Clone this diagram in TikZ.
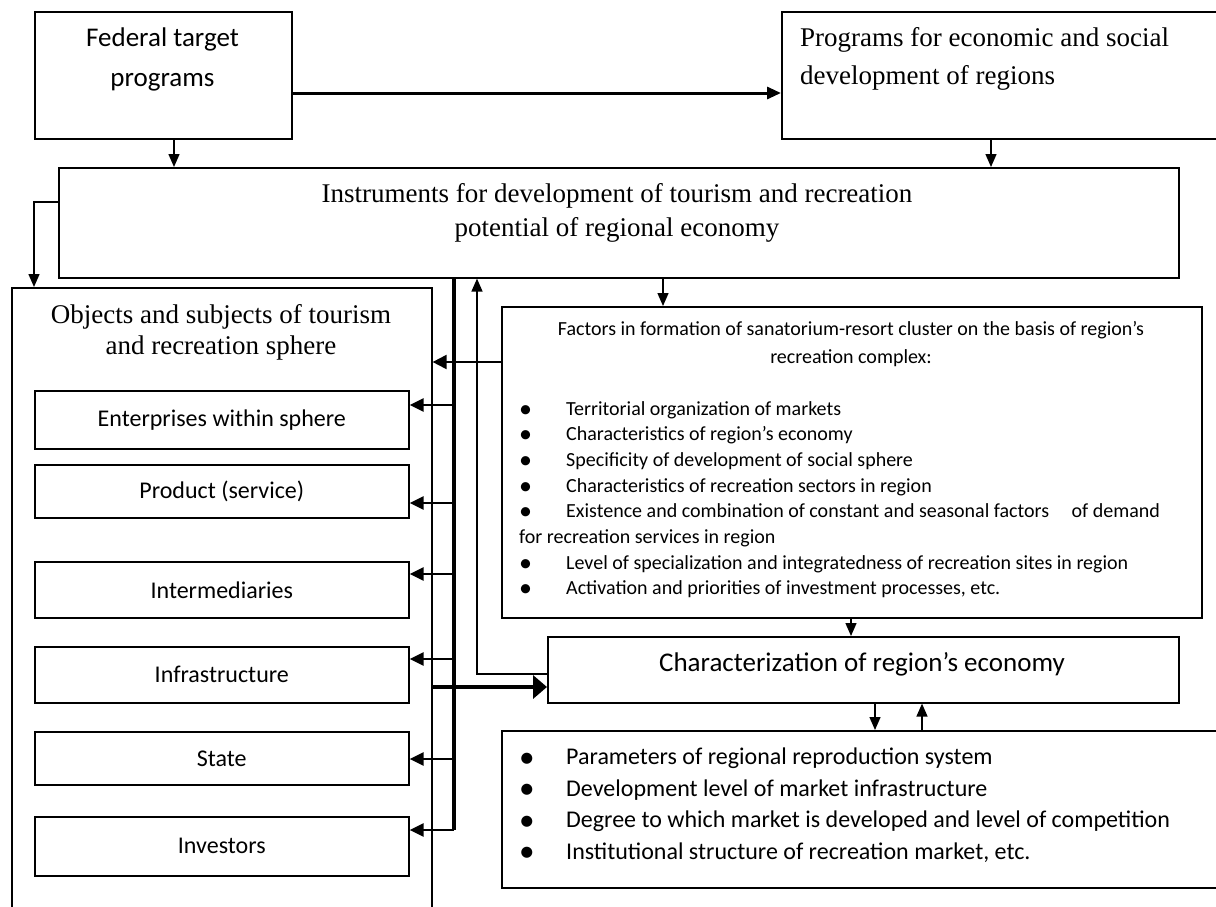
\documentclass[tikz,border=0pt]{standalone}
\usepackage{fontspec}
\setmainfont{Liberation Serif}
\newfontfamily\calib{Carlito}
\usetikzlibrary{arrows.meta}
\newcommand\blt{\makebox[47pt][l]{\raisebox{-0.1em}{\scalebox{1.3}{•}}}}
\begin{document}
\begin{tikzpicture}[x=1pt,y=-1pt,
 box/.style={draw,line width=1.6pt,inner sep=0pt,anchor=north west},
 thinln/.style={line width=1.4pt},
 arrS/.style={thinln,-{Triangle[length=13pt,width=11pt]}},
 arrF/.style={line width=2pt,-{Triangle[length=14pt,width=14pt]}},
 arrM/.style={line width=2.6pt,-{Triangle[length=14pt,width=13pt]}},
 arrT/.style={line width=3pt,-{Triangle[length=14pt,width=12pt]}},
 arrB/.style={line width=3.5pt,-{Triangle[length=14pt,width=23pt]}},
 busln/.style={line width=3.5pt},
 ser/.style={inner sep=0pt,align=center,font=\fontsize{27}{34}\selectfont},
 cal/.style={font=\calib\fontsize{24}{31.5}\selectfont},
]
\path[use as bounding box] (0,0) rectangle (1216,906);
\clip (0,0) rectangle (1216,906);

% boxes
\node[box,minimum width=257pt,minimum height=127pt] (fed) at (34,11) {};
\node[box,minimum width=449pt,minimum height=127pt] (prog) at (781,11) {};
\node[box,minimum width=1120pt,minimum height=110pt] (instr) at (58,167) {};
\node[box,minimum width=420pt,minimum height=633pt] (obj) at (11,287) {};
\node[box,cal,minimum width=374pt,minimum height=58pt] (ent) at (34,390) {Enterprises within sphere};
\node[box,cal,minimum width=374pt,minimum height=53pt] (prod) at (34,464) {Product (service)};
\node[box,cal,minimum width=374pt,minimum height=56pt] (inter) at (34,561) {Intermediaries};
\node[box,cal,minimum width=374pt,minimum height=56pt] (infra) at (34,646) {Infrastructure};
\node[box,cal,minimum width=374pt,minimum height=53pt] (state) at (34,731) {State};
\node[box,cal,minimum width=374pt,minimum height=59pt] (inv) at (34,816) {Investors};
\node[box,minimum width=700pt,minimum height=311pt] (fact) at (501,306) {};
\node[box,minimum width=631pt,minimum height=66pt] (charz) at (547,636) {};
\node[box,minimum width=729pt,minimum height=157pt] (bot) at (501,730) {};

% texts
\node[inner sep=0pt,anchor=north,align=center,font=\calib\fontsize{27}{40}\selectfont] (fedt) at (162.5,28) {Federal target\\programs};
\node[ser,anchor=north west,align=left,font=\fontsize{27}{38}\selectfont] (progt) at (800,27) {Programs for economic and social\\development of regions};
\node[ser,anchor=north] (instrt) at (617,183) {Instruments for development of tourism and recreation\\potential of regional economy};
\node[ser,anchor=north,font=\fontsize{27}{31}\selectfont] (objt) at (221,304) {Objects and subjects of tourism\\and recreation sphere};
\node[inner sep=0pt,anchor=north,align=center,font=\calib\fontsize{20}{28}\selectfont] (factt) at (851,321) {Factors in formation of sanatorium-resort cluster on the basis of region’s\\recreation complex:};
\node[inner sep=0pt,anchor=north west,align=left,font=\calib\fontsize{20}{25.7}\selectfont] (factl) at (519,401) {\blt Territorial organization of markets\\
\blt Characteristics of region’s economy\\
\blt Specificity of development of social sphere\\
\blt Characteristics of recreation sectors in region\\
\blt Existence and combination of constant and seasonal factors\hspace{18pt} of demand\\
for recreation services in region\\
\blt Level of specialization and integratedness of recreation sites in region\\
\blt Activation and priorities of investment processes, etc.};
\node[inner sep=0pt,font=\calib\fontsize{27}{32}\selectfont] (charzt) at (862,664) {Characterization of region’s economy};
\node[inner sep=0pt,anchor=north west,align=left,cal] (botl) at (519,748) {\blt Parameters of regional reproduction system\\
\blt Development level of market infrastructure\\
\blt Degree to which market is developed and level of competition\\
\blt Institutional structure of recreation market, etc.};

% connectors
\draw[arrT] (fed.east |- 0,93) -- (prog.west |- 0,93);
\draw[arrS] (fed.south -| 174,0) -- (instr.north -| 174,0);
\draw[arrS] (prog.south -| 991,0) -- (instr.north -| 991,0);
\draw[arrS] (instr.west |- 0,202) -| (obj.north -| 34,0);
\draw[arrS] (instr.south -| 663,0) -- (fact.north -| 663,0);
\draw[arrF] (fact.west |- 0,362) -- (obj.east |- 0,362);

\coordinate (bustop) at (instr.south -| 454,0);
\coordinate (busend) at (454,830);
\draw[busln] (bustop) -- (busend);
\draw[arrM] (bustop |- 0,405) -- (ent.east |- 0,405);
\draw[arrM] (bustop |- 0,503) -- (prod.east |- 0,503);
\draw[arrM] (bustop |- 0,574) -- (inter.east |- 0,574);
\draw[arrM] (bustop |- 0,659) -- (infra.east |- 0,659);
\draw[arrM] (bustop |- 0,759) -- (state.east |- 0,759);
\draw[arrM] (busend) -- (inv.east |- busend);

\draw[arrS] (charz.west |- 0,674) -| (instr.south -| 477,0);
\draw[arrB] (obj.east |- 0,687) -- (charz.west |- 0,687);
\draw[arrS] (fact.south -| 851,0) -- (charz.north -| 851,0);
\draw[arrS] (charz.south -| 875,0) -- (bot.north -| 875,0);
\draw[arrS] (bot.north -| 922,0) -- (charz.south -| 922,0);
\end{tikzpicture}
\end{document}
